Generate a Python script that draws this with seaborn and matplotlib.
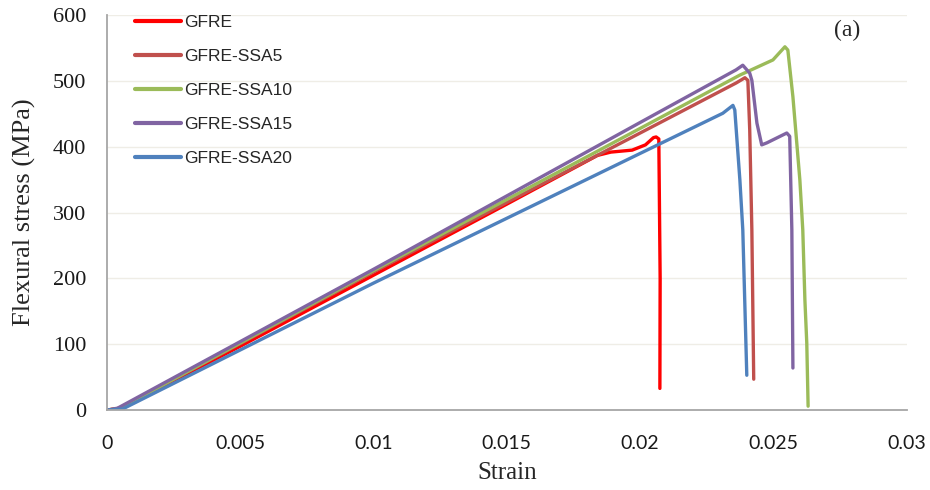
import matplotlib
matplotlib.use("Agg")
import matplotlib.pyplot as plt
import numpy as np
import pandas as pd
import seaborn as sns

# Flexural stress-strain curves of the glass-fibre/epoxy laminates
gfre_strain = [0, 0.0005, 0.005, 0.010, 0.015, 0.0184, 0.0189, 0.0197, 0.0202,
               0.0205, 0.0206, 0.0207, 0.02075, 0.02074]
gfre_stress = [0, 3, 97, 205, 313, 387, 392, 395, 403, 414, 415, 412, 200, 33]

ssa5_strain = [0, 0.0005, 0.010, 0.020, 0.0236, 0.02393, 0.02404, 0.02411,
               0.02419, 0.02426]
ssa5_stress = [0, 3, 210, 421, 497, 505, 501, 426, 274, 47]

ssa10_strain = [0, 0.0005, 0.010, 0.020, 0.02374, 0.02498, 0.02543, 0.02554,
                0.02573, 0.02599, 0.0261, 0.02618, 0.02625, 0.0263]
ssa10_stress = [0, 3, 212, 428, 509, 532, 552, 547, 476, 350, 274, 167, 102, 6]

ssa15_strain = [0, 0.0004, 0.010, 0.020, 0.0236, 0.02385, 0.02411, 0.02419,
                0.02438, 0.02456, 0.02475, 0.0255, 0.02561, 0.02569, 0.02573]
ssa15_stress = [0, 3, 214, 437, 517, 524, 512, 501, 436, 403, 406, 421, 416, 274, 64]

ssa20_strain = [0, 0.0006, 0.010, 0.020, 0.0231, 0.02348, 0.02355, 0.02374,
                0.02385, 0.0240]
ssa20_stress = [0, 2, 193, 390, 451, 463, 456, 350, 274, 53]

series_names = ["GFRE", "GFRE-SSA5", "GFRE-SSA10", "GFRE-SSA15", "GFRE-SSA20"]
series_colors = ["#FF0000", "#C0504D", "#9BBB59", "#8064A2", "#4F81BD"]

x_ticks = [0, 0.005, 0.01, 0.015, 0.02, 0.025, 0.03]
x_tick_labels = ["0", "0.005", "0.01", "0.015", "0.02", "0.025", "0.03"]
y_ticks = [0, 100, 200, 300, 400, 500, 600]

frames = []
for name, xs, ys in zip(series_names,
                        [gfre_strain, ssa5_strain, ssa10_strain, ssa15_strain, ssa20_strain],
                        [gfre_stress, ssa5_stress, ssa10_stress, ssa15_stress, ssa20_stress]):
    frames.append(pd.DataFrame({"Strain": xs, "Stress": ys, "Sample": name,
                                "order": np.arange(len(xs))}))
data = pd.concat(frames, ignore_index=True)

sns.set_style("white")
plt.rcParams["font.family"] = ["Liberation Serif", "DejaVu Serif"]

fig = plt.figure(figsize=(9.3, 4.9), dpi=100)
ax = fig.add_axes([0.115, 0.163, 0.86, 0.806])

sns.lineplot(data=data, x="Strain", y="Stress", hue="Sample", hue_order=series_names,
             palette=series_colors, sort=False, estimator=None, units="Sample",
             linewidth=2.4, ax=ax, legend=True)
for line in ax.get_lines():
    line.set_solid_joinstyle("round")
    line.set_solid_capstyle("round")

ax.set_xlim(0, 0.03)
ax.set_ylim(0, 600)
ax.set_xticks(x_ticks)
ax.set_xticklabels(x_tick_labels, fontfamily="Lato", fontsize=14)
ax.set_yticks(y_ticks)
ax.set_yticklabels([str(v) for v in y_ticks], fontsize=16)
ax.yaxis.grid(True, color="#EFEDE6", linewidth=1)
ax.xaxis.grid(False)
ax.set_axisbelow(True)

for side in ["top", "right"]:
    ax.spines[side].set_visible(False)
for side in ["left", "bottom"]:
    ax.spines[side].set_color("#A6A6A6")
    ax.spines[side].set_linewidth(1.3)
ax.tick_params(axis="both", direction="out", length=7, width=1.3, color="#A6A6A6",
               labelcolor="#1a1a1a")
ax.tick_params(axis="x", pad=11)
ax.tick_params(axis="y", pad=8)

ax.set_xlabel("Strain", fontsize=18, labelpad=7)
ax.set_ylabel("Flexural stress (MPa)", fontsize=19, labelpad=12)

leg = ax.legend(loc="upper left", bbox_to_anchor=(0.016, 1.04), frameon=False,
                handlelength=2.6, handletextpad=0.2, labelspacing=1.08,
                prop={"family": "Liberation Sans", "size": 12.5})
for line in leg.get_lines():
    line.set_linewidth(3)

ax.text(0.926, 0.962, "(a)", transform=ax.transAxes, fontsize=17,
        ha="center", va="center")

fig.savefig("out.png", dpi=100)
